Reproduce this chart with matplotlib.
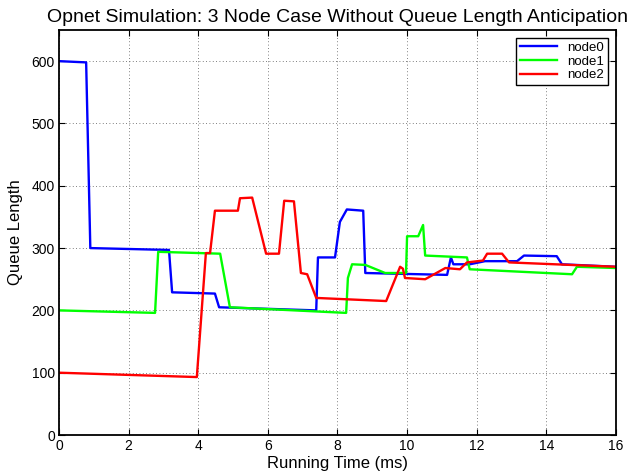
import matplotlib.pyplot as plt

plt.rcParams['font.family'] = ['Liberation Sans', 'DejaVu Sans']

# queue length traces per node (time in ms, queue length)
node0_t = [0, 0.78, 0.9, 3.16, 3.25, 4.48, 4.6, 7.39, 7.44, 7.93, 8.07, 8.27, 8.74, 8.8,
           11.15, 11.26, 11.33, 11.8, 12.24, 13.16, 13.36, 14.3, 14.45, 16]
node0_q = [600, 598, 300, 297, 229, 227, 205, 200, 285, 285, 342, 362, 360, 260,
           257, 285, 274, 274, 279, 279, 288, 287, 274, 270]

node1_t = [0, 2.76, 2.85, 4.63, 4.91, 8.25, 8.3, 8.42, 8.8, 9.37, 9.97, 10.0, 10.32,
           10.46, 10.52, 11.72, 11.8, 14.74, 14.88, 16]
node1_q = [200, 196, 294, 291, 205, 196, 252, 274, 273, 260, 260, 319, 319,
           337, 288, 285, 266, 258, 270, 268]

node2_t = [0, 3.96, 4.22, 4.34, 4.48, 5.14, 5.2, 5.55, 5.95, 6.32, 6.47, 6.75, 6.95,
           7.13, 7.39, 9.4, 9.8, 9.88, 9.94, 10.52, 11.1, 11.52, 11.72, 12.18, 12.3,
           12.73, 12.93, 16]
node2_q = [100, 93, 292, 292, 360, 360, 380, 381, 291, 291, 376, 375, 260,
           258, 220, 215, 270, 267, 252, 250, 268, 266, 277, 280, 291,
           291, 277, 270]

fig = plt.figure(figsize=(6.33, 4.73), dpi=100)
ax = fig.add_axes([0.0932, 0.0803, 0.8798, 0.8563])

ax.plot(node0_t, node0_q, color='#0000ff', lw=1.7, label='node0')
ax.plot(node1_t, node1_q, color='#00ff00', lw=1.7, label='node1')
ax.plot(node2_t, node2_q, color='#ff0000', lw=1.7, label='node2')

ax.set_xlim(0, 16)
ax.set_ylim(0, 650)
ax.set_xticks(range(0, 17, 2))
ax.set_yticks(range(0, 601, 100))
ax.tick_params(direction='in', length=4, width=0.8, labelsize=10, top=True, right=True,
               pad=3)
ax.grid(True, linestyle=(0, (1, 3)), color='#555555', linewidth=0.6)
for s in ax.spines.values():
    s.set_linewidth(1.3)

ax.set_title('Opnet Simulation: 3 Node Case Without Queue Length Anticipation',
             fontsize=14, pad=6)
ax.set_xlabel('Running Time (ms)', fontsize=12, labelpad=2)
ax.set_ylabel('Queue Length', fontsize=12, labelpad=6)

leg = ax.legend(loc='upper right', fontsize=9.5, fancybox=False, framealpha=1,
                edgecolor='black', handlelength=2.8, borderpad=0.3,
                labelspacing=0.1, borderaxespad=0.6)
leg.get_frame().set_linewidth(1.0)

fig.savefig('out.png', dpi=100)
